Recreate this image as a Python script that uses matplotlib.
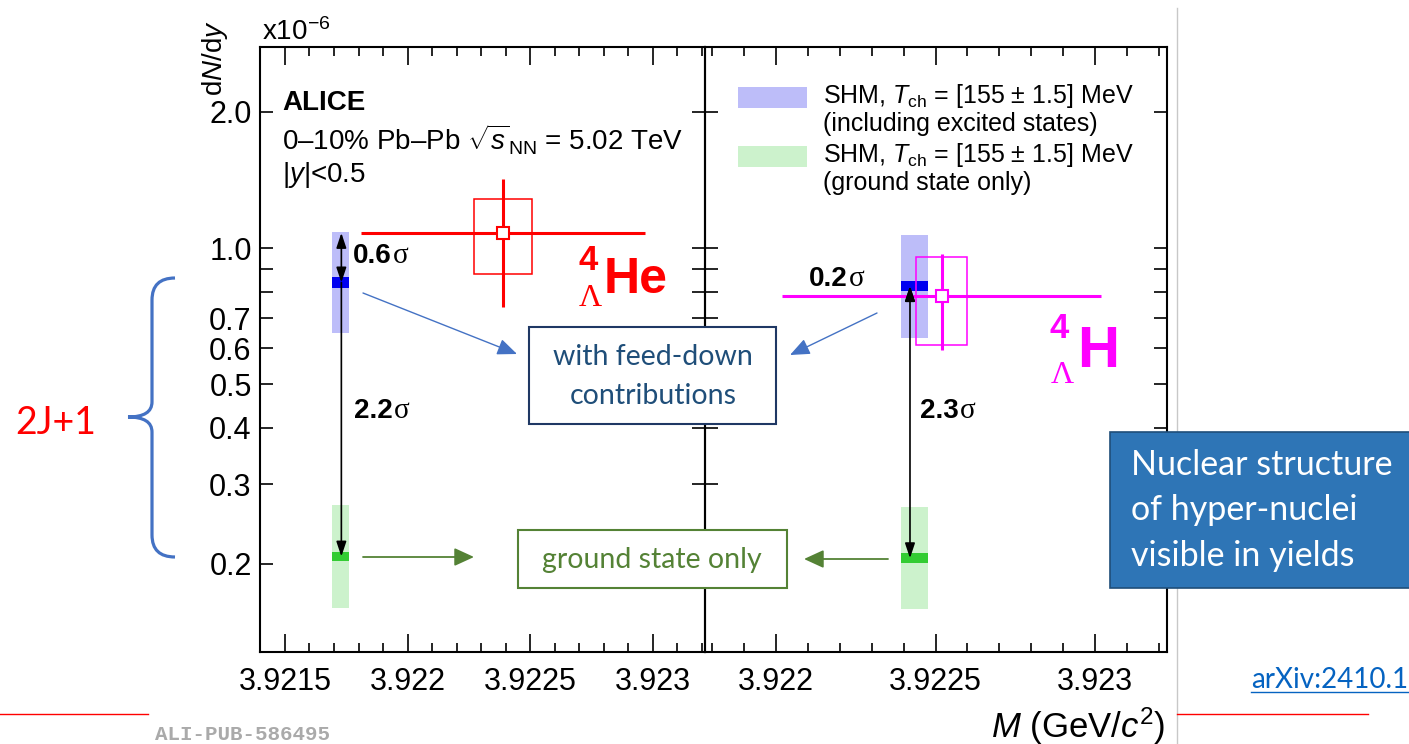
import numpy as np
import matplotlib.pyplot as plt
from matplotlib.patches import Rectangle, FancyArrowPatch, PathPatch
from matplotlib.lines import Line2D
from matplotlib.path import Path
from matplotlib.ticker import FixedLocator, FixedFormatter, MultipleLocator, NullLocator

plt.rcParams['font.family'] = ['Liberation Sans', 'DejaVu Sans']
plt.rcParams['mathtext.fontset'] = 'custom'
plt.rcParams['mathtext.rm'] = 'Liberation Sans'
plt.rcParams['mathtext.it'] = 'Liberation Sans:italic'
plt.rcParams['mathtext.bf'] = 'Liberation Sans:bold'

# measured yields, dN/dy in units of 1e-6, mass in GeV/c^2
he_mass, he_mass_err, he_mass_sys = 3.92239, 0.00058, 0.000118
he_yield, he_stat, he_sys = 1.08, 0.34, 0.205
h_mass, h_mass_err, h_mass_sys = 3.92252, 0.00050, 0.00008
h_yield, h_stat, h_sys = 0.783, 0.188, 0.174

# SHM bands [4LHe, 4LH]
shm_x = [3.921727, 3.922434]
shm_halfw = [0.000036, 0.000043]
shm_exc_lo = [0.648, 0.632]
shm_exc_hi = [1.085, 1.068]
shm_exc_c_lo = [0.816, 0.803]
shm_exc_c_hi = [0.863, 0.845]
shm_gs_lo = [0.160, 0.159]
shm_gs_hi = [0.270, 0.267]
shm_gs_c_lo = [0.203, 0.201]
shm_gs_c_hi = [0.2125, 0.211]
arrow_x = [3.92173, 3.92242]
sigma_short = ['0.6', '0.2']
sigma_long = ['2.2', '2.3']

y_ticks = [0.2, 0.3, 0.4, 0.5, 0.6, 0.7, 0.8, 0.9, 1.0, 2.0]
y_labels = ['0.2', '0.3', '0.4', '0.5', '0.6', '0.7', '', '', '1.0', '2.0']
x_ticks_left = [3.9215, 3.922, 3.9225, 3.923]
x_labels_left = ['3.9215', '3.922', '3.9225', '3.923']
x_ticks_right = [3.922, 3.9225, 3.923]
x_labels_right = ['3.922', '3.9225', '3.923']

W, H = 1409, 744
def fx(x): return x / W
def fy(y): return 1 - y / H

fig = plt.figure(figsize=(14.09, 7.44), dpi=100)
ax_l = fig.add_axes([fx(260), fy(652), (705 - 260) / W, (652 - 47) / H])
ax_r = fig.add_axes([fx(705), fy(652), (1167 - 705) / W, (652 - 47) / H])

for ax in (ax_l, ax_r):
    ax.set_facecolor('none')
    ax.set_yscale('log')
    ax.set_ylim(0.1277, 2.785)
    ax.yaxis.set_major_locator(FixedLocator(y_ticks))
    ax.yaxis.set_major_formatter(FixedFormatter(y_labels))
    ax.yaxis.set_minor_locator(NullLocator())
    ax.xaxis.set_minor_locator(MultipleLocator(0.0001))
    ax.tick_params(which='both', direction='in', top=True, right=True, labelsize=22)
    ax.tick_params(axis='x', which='major', length=13, width=1.2, pad=11)
    ax.tick_params(axis='x', which='minor', length=6.5, width=1.2)
    ax.tick_params(axis='y', which='major', length=9.5, width=1.2, pad=6)
    for s in ax.spines.values():
        s.set_linewidth(1.5)

ax_l.set_xlim(3.921398, 3.923214)
ax_l.xaxis.set_major_locator(FixedLocator(x_ticks_left))
ax_l.xaxis.set_major_formatter(FixedFormatter(x_labels_left))
ax_r.set_xlim(3.9217774, 3.9232257)
ax_r.xaxis.set_major_locator(FixedLocator(x_ticks_right))
ax_r.xaxis.set_major_formatter(FixedFormatter(x_labels_right))
ax_r.tick_params(labelleft=False)

panels = [(ax_l, he_mass, he_mass_err, he_mass_sys, he_yield, he_stat, he_sys, '#FF0000'),
          (ax_r, h_mass, h_mass_err, h_mass_sys, h_yield, h_stat, h_sys, '#FF00FF')]

for i, (ax, m, me, ms, yv, st, sy, col) in enumerate(panels):
    w = 2 * shm_halfw[i]
    ax.bar(shm_x[i], shm_exc_hi[i] - shm_exc_lo[i], bottom=shm_exc_lo[i], width=w,
           color='#BDBDF9', lw=0, zorder=1)
    ax.bar(shm_x[i], shm_exc_c_hi[i] - shm_exc_c_lo[i], bottom=shm_exc_c_lo[i], width=w,
           color='#0000F0', lw=0, zorder=2)
    ax.bar(shm_x[i], shm_gs_hi[i] - shm_gs_lo[i], bottom=shm_gs_lo[i], width=w,
           color='#CCF2CC', lw=0, zorder=1)
    ax.bar(shm_x[i], shm_gs_c_hi[i] - shm_gs_c_lo[i], bottom=shm_gs_c_lo[i], width=w,
           color='#33CC33', lw=0, zorder=2)
    ax.add_patch(Rectangle((m - ms, yv - sy), 2 * ms, 2 * sy, fill=False, ec=col, lw=1.1, zorder=3))
    ax.errorbar([m], [yv], xerr=[me], yerr=[st], fmt='s', ms=8, mfc='white', mec=col, mew=1.5,
                ecolor=col, elinewidth=2.2, capsize=0, zorder=4)

    exc_c = np.sqrt(shm_exc_c_lo[i] * shm_exc_c_hi[i])
    gs_c = np.sqrt(shm_gs_c_lo[i] * shm_gs_c_hi[i])
    if i == 0:
        st1, st2 = '<|-|>', '-|>'
    else:
        st1, st2 = '-|>', '<|-|>'
    ax.annotate('', xy=(arrow_x[i], exc_c), xytext=(arrow_x[i], yv),
                arrowprops=dict(arrowstyle=st1 + ',head_length=0.9,head_width=0.3',
                                mutation_scale=10, lw=1.2, color='black', shrinkA=0, shrinkB=0),
                zorder=5)
    ax.annotate('', xy=(arrow_x[i], gs_c), xytext=(arrow_x[i], exc_c),
                arrowprops=dict(arrowstyle=st2 + ',head_length=0.9,head_width=0.3',
                                mutation_scale=10, lw=1.2, color='black', shrinkA=0, shrinkB=0),
                zorder=5)

# sigma labels: bold number + serif sigma
def sig_label(ax, x, y, num):
    t = fig.text(fx(x), fy(y), num, fontsize=20, fontweight='bold', ha='left', va='baseline')
    a = ax.annotate('\u03c3', xy=(1, 0), xycoords=t, xytext=(1, 0), textcoords='offset points',
                    fontsize=21, family='Liberation Serif', ha='left', va='bottom',
                    annotation_clip=False)
    a.set_clip_on(False)

sig_label(ax_l, 353, 263, sigma_short[0])
sig_label(ax_l, 354, 418, sigma_long[0])
sig_label(ax_r, 809, 286, sigma_short[1])
sig_label(ax_r, 920, 418, sigma_long[1])

# particle labels
fig.text(fx(588), fy(261), '4', color='#FF0000', fontsize=25, fontweight='bold', ha='center', va='center')
fig.text(fx(590), fy(306), '\u039b', color='#FF0000', fontsize=23, family='Liberation Serif', ha='center', va='baseline')
fig.text(fx(604), fy(293), 'He', color='#FF0000', fontsize=36, fontweight='bold', ha='left', va='baseline')
fig.text(fx(1059), fy(328), '4', color='#FF00FF', fontsize=25, fontweight='bold', ha='center', va='center')
fig.text(fx(1062), fy(383), '\u039b', color='#FF00FF', fontsize=23, family='Liberation Serif', ha='center', va='baseline')
fig.text(fx(1077), fy(367), 'H', color='#FF00FF', fontsize=42, fontweight='bold', ha='left', va='baseline')

# ALICE text
fig.text(fx(282), fy(103), 'ALICE', fontsize=20, fontweight='bold', va='center')
fig.text(fx(282), fy(140), '0\u201310% Pb\u2013Pb ' + r'$\sqrt{s}_{\rm NN}$ = 5.02 TeV',
         fontsize=20, va='center')
fig.text(fx(282), fy(175), r'|$y$|<0.5', fontsize=20, va='center')

# legend
fig.add_artist(Rectangle((fx(738), fy(108)), 69 / W, 21 / H, transform=fig.transFigure, fc='#BDBDF9', lw=0))
fig.add_artist(Rectangle((fx(738), fy(167)), 69 / W, 21 / H, transform=fig.transFigure, fc='#CCF2CC', lw=0))
shm_txt = r'SHM, $T_{\rm ch}$ = [155 $\pm$ 1.5] MeV'
fig.text(fx(823), fy(96), shm_txt, fontsize=18, va='center')
fig.text(fx(823), fy(124), '(including excited states)', fontsize=18, va='center')
fig.text(fx(823), fy(155), shm_txt, fontsize=18, va='center')
fig.text(fx(823), fy(183), '(ground state only)', fontsize=18, va='center')

# axis titles
fig.text(fx(215), fy(58), r'd$N$/d$y$', rotation=90, fontsize=20, ha='center', va='center')
fig.text(fx(262), fy(40), 'x10$^{\\mathrm{-6}}$', fontsize=20, ha='left', va='baseline')
fig.text(fx(1165), fy(726), r'$M$ (GeV/$c^{2}$)', fontsize=25, ha='right', va='center')

# slide annotations
slide = ['Lato', 'DejaVu Sans']
fig.add_artist(Rectangle((fx(529), fy(424)), 247 / W, 97 / H, transform=fig.transFigure,
                         fc='white', ec='#1F3864', lw=1.5, zorder=5))
fig.text(fx(653), fy(357), 'with feed-down', family=slide, fontsize=20.5, color='#1F4E79',
         ha='center', va='center', zorder=6)
fig.text(fx(653), fy(396), 'contributions', family=slide, fontsize=20.5, color='#1F4E79',
         ha='center', va='center', zorder=6)
fig.add_artist(Rectangle((fx(518), fy(588)), 269 / W, 58 / H, transform=fig.transFigure,
                         fc='white', ec='#548235', lw=1.5, zorder=5))
fig.text(fx(652), fy(560), 'ground state only', family=slide, fontsize=20.5, color='#548235',
         ha='center', va='center', zorder=6)

def fig_arrow(p0, p1, col, lw, hl, hw):
    fig.add_artist(FancyArrowPatch((fx(p0[0]), fy(p0[1])), (fx(p1[0]), fy(p1[1])),
                                   transform=fig.transFigure,
                                   arrowstyle='-|>,head_length=%g,head_width=%g' % (hl, hw),
                                   mutation_scale=1, color=col, lw=lw, shrinkA=0, shrinkB=0, zorder=6))

fig_arrow((363, 293), (517, 354), '#4472C4', 1.0, 12, 5)
fig_arrow((877, 313), (790, 355), '#4472C4', 1.0, 12, 5)
fig_arrow((363, 557), (474, 557), '#548235', 1.3, 12, 5.5)
fig_arrow((888, 559), (804, 559), '#548235', 1.3, 12, 5.5)

fig.add_artist(Rectangle((fx(1110), fy(588)), 320 / W, 156 / H, transform=fig.transFigure,
                         fc='#2E75B6', ec='#1F4E79', lw=1.2, zorder=5))
for yy, line in zip([465, 510, 556], ['Nuclear structure', 'of hyper-nuclei', 'visible in yields']):
    fig.text(fx(1131), fy(yy), line, family=slide, fontsize=24.5, color='white', va='center', zorder=6)

fig.text(fx(15), fy(423), '2J+1', family=slide, fontsize=27, color='#FF0000', va='center')
verts = [(fx(175), fy(278)), (fx(152), fy(278)), (fx(152), fy(300)),
         (fx(152), fy(402)),
         (fx(152), fy(417)), (fx(128), fy(417)),
         (fx(152), fy(417)), (fx(152), fy(432)),
         (fx(152), fy(535)),
         (fx(152), fy(557)), (fx(175), fy(557))]
codes = [Path.MOVETO, Path.CURVE3, Path.CURVE3, Path.LINETO, Path.CURVE3, Path.CURVE3,
         Path.CURVE3, Path.CURVE3, Path.LINETO, Path.CURVE3, Path.CURVE3]
fig.add_artist(PathPatch(Path(verts, codes), transform=fig.transFigure, fill=False,
                         ec='#4472C4', lw=2.3))

# slide decorations
fig.add_artist(Line2D([fx(1177), fx(1177)], [fy(8), 0], transform=fig.transFigure, color='#C8C8C8', lw=1))
fig.add_artist(Line2D([0, fx(148)], [fy(714), fy(714)], transform=fig.transFigure, color='#FF0000', lw=1))
fig.add_artist(Line2D([fx(1177), fx(1368)], [fy(714), fy(714)], transform=fig.transFigure, color='#FF0000', lw=1))
fig.text(fx(155), fy(735), 'ALI-PUB-586495', family='Liberation Mono', fontweight='bold',
         color='#AAAAAA', fontsize=15, va='center')
fig.text(fx(1251), fy(680), 'arXiv:2410.1', family=slide, fontsize=20, color='#0563C1', va='center')
fig.add_artist(Line2D([fx(1251), 1], [fy(692), fy(692)], transform=fig.transFigure, color='#0563C1', lw=1))

fig.savefig('out.png', dpi=100)
